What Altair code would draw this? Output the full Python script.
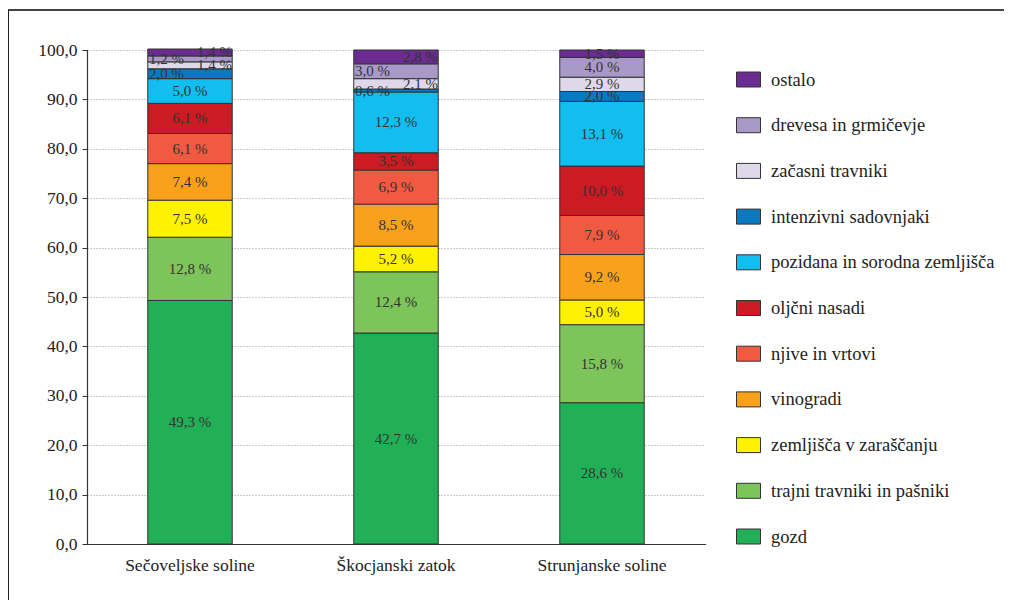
import altair as alt
import pandas as pd

sites = ["Sečoveljske soline", "Škocjanski zatok", "Strunjanske soline"]
# bottom to top stacking order
categories = [
    "gozd",
    "trajni travniki in pašniki",
    "zemljišča v zaraščanju",
    "vinogradi",
    "njive in vrtovi",
    "oljčni nasadi",
    "pozidana in sorodna zemljišča",
    "intenzivni sadovnjaki",
    "začasni travniki",
    "drevesa in grmičevje",
    "ostalo",
]
colors = [
    "#22B057", "#7DC45A", "#FFF200", "#F9A11B", "#F15A40", "#CC1B22",
    "#12BEF0", "#0A7AC0", "#DDD9EB", "#A899C9", "#6B2C91",
]
secovlje = [49.3, 12.8, 7.5, 7.4, 6.1, 6.1, 5.0, 2.0, 1.4, 1.2, 1.4]
skocjan = [42.7, 12.4, 5.2, 8.5, 6.9, 3.5, 12.3, 0.6, 2.1, 3.0, 2.8]
strunjan = [28.6, 15.8, 5.0, 9.2, 7.9, 10.0, 13.1, 2.0, 2.9, 4.0, 1.5]

left_labels = {("Sečoveljske soline", "drevesa in grmičevje"),
               ("Sečoveljske soline", "intenzivni sadovnjaki"),
               ("Škocjanski zatok", "drevesa in grmičevje"),
               ("Škocjanski zatok", "intenzivni sadovnjaki")}
right_labels = {("Sečoveljske soline", "ostalo"),
                ("Sečoveljske soline", "začasni travniki"),
                ("Škocjanski zatok", "ostalo"),
                ("Škocjanski zatok", "začasni travniki")}

rows = []
for site, vals in zip(sites, [secovlje, skocjan, strunjan]):
    cum = 0.0
    for cat, v in zip(categories, vals):
        key = (site, cat)
        pos = "left" if key in left_labels else ("right" if key in right_labels else "center")
        rows.append({"site": site, "cat": cat, "v": v, "y0": cum, "y1": cum + v,
                     "mid": cum + v / 2, "label": f"{v:.1f}".replace(".", ",") + " %",
                     "pos": pos})
        cum += v
df = pd.DataFrame(rows)

FONT = "Liberation Serif"
legend_order = list(reversed(categories))
legend_colors = list(reversed(colors))

x_enc = alt.X("site:N", sort=sites, title=None,
              scale=alt.Scale(paddingInner=0.59, paddingOuter=0.295),
              axis=alt.Axis(labelAngle=0, ticks=False, labelPadding=12, labelFontSize=17.5,
                            labelFont=FONT, labelColor="#222", domainColor="#333",
                            domainWidth=1.2, grid=False))
y_scale = alt.Scale(domain=[0, 100], nice=False)

bars = alt.Chart(df).mark_bar(stroke="#333", strokeWidth=1).encode(
    x=x_enc,
    y=alt.Y("y0:Q", scale=y_scale, title=None,
            axis=alt.Axis(values=list(range(0, 101, 10)),
                          labelExpr="replace(format(datum.value, '.1f'), '.', ',')",
                          labelFont=FONT, labelFontSize=17.5, labelColor="#222",
                          labelPadding=5, tickSize=5, tickColor="#333",
                          domainColor="#333", domainWidth=1.2,
                          grid=True, gridColor="#999", gridDash=[1, 2], gridWidth=1)),
    y2="y1:Q",
    fill=alt.Fill("cat:N", scale=alt.Scale(domain=legend_order, range=legend_colors),
                  legend=alt.Legend(title=None, orient="none", legendX=649, legendY=17,
                                    symbolType="M-1,-0.625H1V0.625H-1Z", symbolSize=576,
                                    symbolStrokeColor="#333", symbolStrokeWidth=1,
                                    symbolOpacity=1, labelFont=FONT, labelFontSize=18.5,
                                    labelColor="#222", labelOffset=10, rowPadding=23.7,
                                    labelLimit=400, padding=0)),
)

def text_layer(pos, align, dx):
    return alt.Chart(df).transform_filter(alt.datum.pos == pos).mark_text(
        font=FONT, fontSize=15, color="#333", align=align, dx=dx, baseline="middle"
    ).encode(x=alt.X("site:N", sort=sites), y=alt.Y("mid:Q", scale=y_scale), text="label:N")

texts = text_layer("center", "center", 0) + text_layer("left", "left", -41) + text_layer("right", "right", 42)

frame_top = alt.Chart(df).mark_rule(color="#444", strokeWidth=2).encode(
    x=alt.value(-80), x2=alt.value(920), y=alt.value(-40))
frame_left = alt.Chart(df).mark_rule(color="#222", strokeWidth=1.5).encode(
    x=alt.value(-79), y=alt.value(-40), y2=alt.value(560))

chart = alt.layer(bars, texts, frame_top, frame_left).properties(
    width=618, height=494,
    autosize=alt.AutoSizeParams(type="none"),
    padding={"left": 79, "top": 42, "right": 299, "bottom": 56},
    background="white",
).configure(font=FONT).configure_view(stroke=None).configure_axis(
    domainCap="square", labelFont=FONT).configure_legend(labelFont=FONT)

chart.save("out.html", embed_options={"renderer": "svg", "actions": False})
